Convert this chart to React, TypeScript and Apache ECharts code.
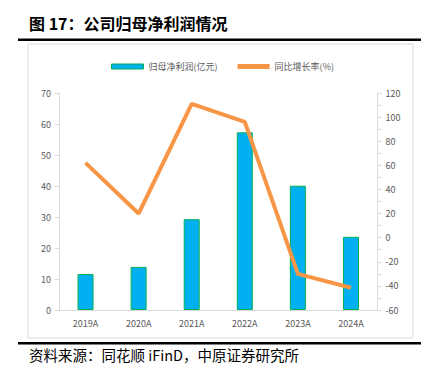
import React, { useEffect, useRef } from "react";
import * as echarts from "echarts";

const categories = ["2019A", "2020A", "2021A", "2022A", "2023A", "2024A"];
const profit = [11.6, 13.9, 29.3, 57.3, 40.1, 23.6];
const growth = [62, 20, 111, 96, -30, -41.5];
const titleText = "图 17：公司归母净利润情况";
const sourceText = "资料来源：同花顺 iFinD，中原证券研究所";

export default function App() {
  const ref = useRef<HTMLDivElement>(null);
  useEffect(() => {
    if (!ref.current) return;
    const chart = echarts.init(ref.current, undefined, { renderer: "svg" });
    const axisColor = "#D9D9D9";
    const labelColor = "#595959";
    chart.setOption({
      animation: false,
      textStyle: { fontFamily: "'Noto Sans CJK SC', 'Noto Sans', sans-serif" },
      grid: { left: 59, right: 49.5, top: 93, bottom: 66 },
      legend: {
        left: 106,
        top: 57,
        itemGap: 20,
        itemWidth: 32,
        itemHeight: 5,
        icon: "rect",
        textStyle: { color: labelColor, fontSize: 9 },
        data: [
          { name: "归母净利润(亿元)", itemStyle: { color: "#00B0F0", borderColor: "#00B050", borderWidth: 1 } },
          { name: "同比增长率(%)", itemStyle: { color: "#F79646" } },
        ],
      },
      xAxis: {
        type: "category",
        data: categories,
        axisLine: { lineStyle: { color: axisColor } },
        axisTick: { show: false },
        axisLabel: { color: labelColor, fontSize: 9, margin: 9 },
      },
      yAxis: [
        {
          type: "value",
          min: 0,
          max: 70,
          interval: 10,
          axisLine: { show: true, lineStyle: { color: axisColor } },
          axisTick: { show: true, length: 4, lineStyle: { color: axisColor } },
          splitLine: { show: false },
          axisLabel: { color: labelColor, fontSize: 9, margin: 8 },
        },
        {
          type: "value",
          min: -60,
          max: 120,
          interval: 20,
          axisLine: { show: true, lineStyle: { color: axisColor } },
          axisTick: { show: true, length: 4, lineStyle: { color: axisColor } },
          minorTick: { show: true, splitNumber: 2, length: 4, lineStyle: { color: axisColor } },
          splitLine: { show: false },
          axisLabel: { color: labelColor, fontSize: 9, margin: 8 },
        },
      ],
      series: [
        {
          name: "归母净利润(亿元)",
          type: "bar",
          data: profit,
          barWidth: 16,
          itemStyle: { color: "#00B0F0", borderColor: "#00B050", borderWidth: 1 },
        },
        {
          name: "同比增长率(%)",
          type: "line",
          yAxisIndex: 1,
          data: growth,
          symbol: "none",
          lineStyle: { color: "#F79646", width: 4 },
          itemStyle: { color: "#F79646" },
        },
      ],
      graphic: [
        {
          type: "text",
          left: 29,
          top: 15,
          style: { text: titleText, font: "bold 16px 'Noto Sans CJK SC', sans-serif", fill: "#000" },
        },
        {
          type: "rect",
          shape: { x: 18, y: 38.5, width: 403, height: 2.5 },
          style: { fill: "#000" },
        },
        {
          type: "rect",
          shape: { x: 28, y: 44, width: 385, height: 294 },
          style: { fill: "none", stroke: "#D9D9D9", lineWidth: 1 },
        },
        {
          type: "rect",
          shape: { x: 18, y: 342, width: 403, height: 2.5 },
          style: { fill: "#000" },
        },
        {
          type: "text",
          left: 29,
          top: 347,
          style: { text: sourceText, font: "14.5px 'Noto Sans CJK SC', sans-serif", fill: "#000" },
        },
      ],
    });
    return () => chart.dispose();
  }, []);
  return (
    <div
      ref={ref}
      style={{ position: "fixed", left: 0, top: 0, width: 427, height: 376, background: "#fff" }}
    />
  );
}
